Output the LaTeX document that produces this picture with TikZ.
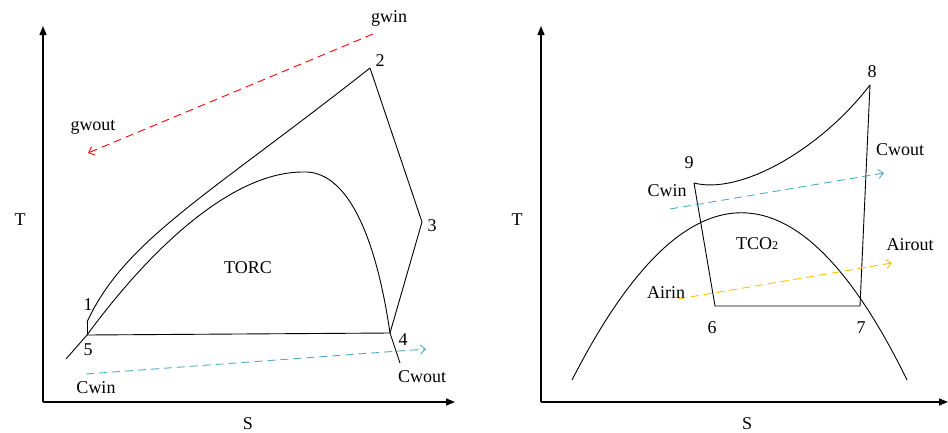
\documentclass[tikz,border=0pt]{standalone}
\usepackage{fontspec}
\setmainfont{Liberation Serif}
\usetikzlibrary{arrows.meta}
\definecolor{cyanline}{RGB}{75,172,198}
\definecolor{yellowline}{RGB}{255,192,0}
\begin{document}
\begin{tikzpicture}[x=1pt,y=-1pt,
  axis/.style={line width=1.3pt,-{Triangle[length=9pt,width=7pt]}},
  curve/.style={line width=0.9pt},
  flow/.style={line width=0.9pt,dash pattern=on 8pt off 5pt,-{Straight Barb[length=5pt,width=9pt]}},
  lbl/.style={font=\fontsize{18}{18}\selectfont,inner sep=0pt}]
\useasboundingbox (0,0) rectangle (948,432);
% ---------- left panel ----------
\coordinate (o1) at (43,402);
\coordinate (ty1) at (43,26);
\coordinate (sx1) at (455,402);
\draw[axis] (o1) -- (ty1);
\draw[axis] (o1) -- (sx1);
\node[lbl] (T1) at (20,220) {T};
\node[lbl] (S1) at (248,424) {S};
\coordinate (p1) at (87,322);
\coordinate (p2) at (370,68);
\coordinate (p3) at (422,222);
\coordinate (p4) at (390,333);
\coordinate (p5) at (87,335);
\coordinate (top1) at (303,172);
\coordinate (lo1) at (66,359);
\coordinate (lo2) at (400,363);
\draw[curve] (p1) .. controls (125,240) and (205,198) .. (p2);
\draw[curve] (p2) -- (p3) -- (p4);
\draw[curve] (p5) -- (p4);
\draw[curve] (p1) -- (p5);
\draw[curve] (lo1) -- (p5) .. controls (148,252) and (230,172) .. (top1)
  .. controls (345,170) and (375,230) .. (p4) -- (lo2);
\node[lbl] (n1) at (88,305) {1};
\node[lbl] (n2) at (380,61) {2};
\node[lbl] (n3) at (432,226) {3};
\node[lbl] (n4) at (403,340) {4};
\node[lbl] (n5) at (88,350) {5};
\node[lbl] (torc) at (248,268) {TORC};
\node[lbl] (gwin) at (389,18) {gwin};
\node[lbl] (gwout) at (93,127) {gwout};
\coordinate (ga) at (373,34);
\coordinate (gb) at (88,153);
\draw[flow,red] (ga) -- (gb);
\node[lbl] (cwin1) at (96,388) {Cwin};
\node[lbl] (cwout1) at (422,377) {Cwout};
\coordinate (ca) at (86,374);
\coordinate (cb) at (426,349);
\draw[flow,cyanline] (ca) -- (cb);
% ---------- right panel ----------
\coordinate (o2) at (541,402);
\coordinate (ty2) at (541,26);
\coordinate (sx2) at (948,402);
\draw[axis] (o2) -- (ty2);
\draw[axis] (o2) -- (sx2);
\node[lbl] (T2) at (517,220) {T};
\node[lbl] (S2) at (747,424) {S};
\coordinate (p6) at (715,306);
\coordinate (p7) at (860,306);
\coordinate (p8) at (870,85);
\coordinate (p9) at (694,183);
\coordinate (d1) at (572,380);
\coordinate (d2) at (907,380);
\draw[curve] (d1) .. controls (686,157) and (798,157) .. (d2);
\draw[curve] (p9) .. controls (740,195) and (820,150) .. (p8);
\draw[curve] (p9) -- (p6) -- (p7) -- (p8);
\node[lbl] (n6) at (712,328) {6};
\node[lbl] (n7) at (861,328) {7};
\node[lbl] (n8) at (872,72) {8};
\node[lbl] (n9) at (689,163) {9};
\node[lbl] (tco) at (757,244) {TCO{\fontsize{12}{12}\selectfont 2}};
\node[lbl] (cwin2) at (667,191) {Cwin};
\node[lbl] (cwout2) at (900,150) {Cwout};
\node[lbl] (airin) at (666,293) {Airin};
\node[lbl] (airout) at (910,245) {Airout};
\coordinate (da) at (670,209);
\coordinate (db) at (884,173);
\draw[flow,cyanline] (da) -- (db);
\coordinate (ea) at (678,299);
\coordinate (eb) at (892,263);
\draw[flow,yellowline] (ea) -- (eb);
\end{tikzpicture}
\end{document}
